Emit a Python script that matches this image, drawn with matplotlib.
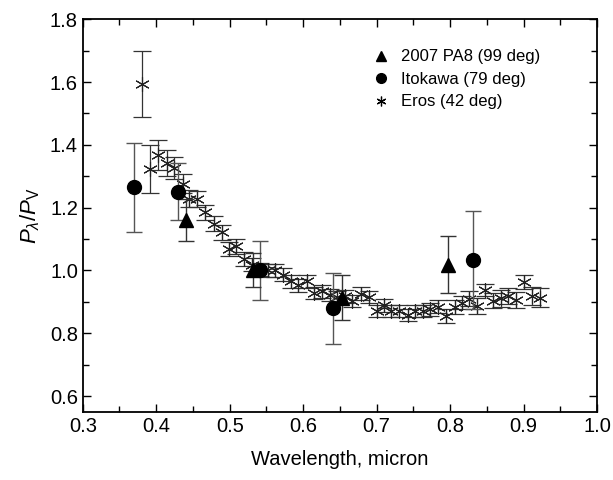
import matplotlib
matplotlib.use('Agg')
import matplotlib.pyplot as plt
from matplotlib.lines import Line2D
from matplotlib.ticker import MultipleLocator

plt.rcParams['font.family'] = ['Liberation Sans', 'DejaVu Sans']
plt.rcParams['mathtext.fontset'] = 'custom'
plt.rcParams['mathtext.rm'] = 'Liberation Sans'
plt.rcParams['mathtext.it'] = 'Liberation Sans:italic'

# 2007 PA8 (triangles)
pa8_x = [0.440, 0.532, 0.653, 0.797]
pa8_y = [1.162, 1.003, 0.914, 1.019]
pa8_err = [0.067, 0.054, 0.072, 0.090]

# Itokawa (circles)
ito_x = [0.370, 0.429, 0.541, 0.641, 0.831]
ito_y = [1.265, 1.251, 1.000, 0.879, 1.032]
ito_err = [0.141, 0.090, 0.095, 0.112, 0.156]

# Eros (asterisks)
eros_x = [0.381, 0.392, 0.403, 0.414, 0.424, 0.436, 0.445, 0.456, 0.467, 0.478,
          0.489, 0.499, 0.509, 0.520, 0.530, 0.541, 0.552, 0.562, 0.572, 0.583,
          0.593, 0.605, 0.615, 0.625, 0.636, 0.646, 0.657, 0.667, 0.679, 0.689,
          0.700, 0.710, 0.720, 0.731, 0.742, 0.752, 0.763, 0.773, 0.784, 0.795,
          0.806, 0.816, 0.826, 0.837, 0.848, 0.858, 0.869, 0.879, 0.890, 0.901,
          0.911, 0.922]
eros_y = [1.595, 1.323, 1.368, 1.342, 1.326, 1.276, 1.228, 1.228, 1.185, 1.149,
          1.122, 1.069, 1.077, 1.037, 1.019, 1.003, 1.000, 1.000, 0.987, 0.966,
          0.953, 0.966, 0.929, 0.934, 0.922, 0.915, 0.918, 0.903, 0.926, 0.916,
          0.871, 0.889, 0.871, 0.871, 0.858, 0.871, 0.871, 0.876, 0.885, 0.855,
          0.885, 0.898, 0.910, 0.887, 0.938, 0.903, 0.911, 0.918, 0.905, 0.963,
          0.918, 0.913]
eros_err = [0.105, 0.077, 0.048, 0.040, 0.035, 0.030, 0.027, 0.026, 0.025, 0.024,
            0.024, 0.023, 0.023, 0.022, 0.022, 0.022, 0.021, 0.021, 0.021, 0.021,
            0.021, 0.021, 0.020, 0.020, 0.020, 0.020, 0.020, 0.020, 0.020, 0.020,
            0.020, 0.020, 0.020, 0.020, 0.020, 0.020, 0.020, 0.020, 0.020, 0.022,
            0.022, 0.022, 0.024, 0.024, 0.020, 0.024, 0.026, 0.026, 0.026, 0.022,
            0.028, 0.030]

asterisk = (6, 2, 0)

fig = plt.figure(figsize=(6.13, 4.8), dpi=100)
ax = fig.add_axes([0.135, 0.142, 0.839, 0.818])

# Eros
ax.errorbar(eros_x, eros_y, yerr=eros_err, fmt='none', ecolor='#333333',
            elinewidth=0.9, capsize=6.5, capthick=0.9, zorder=2)
ax.plot(eros_x, eros_y, linestyle='none', marker=asterisk, markersize=10.5,
        markeredgecolor='#222222', markeredgewidth=0.8, zorder=3)

# Itokawa
ax.errorbar(ito_x, ito_y, yerr=ito_err, fmt='none', ecolor='#555555',
            elinewidth=1.0, capsize=5.5, capthick=1.0, zorder=4)
ax.plot(ito_x, ito_y, linestyle='none', marker='o', markersize=10,
        color='black', zorder=5)

# 2007 PA8
ax.errorbar(pa8_x, pa8_y, yerr=pa8_err, fmt='none', ecolor='#333333',
            elinewidth=1.0, capsize=5.5, capthick=1.0, zorder=4)
ax.plot(pa8_x, pa8_y, linestyle='none', marker='^', markersize=10,
        color='black', zorder=5)

ax.set_xlim(0.3, 1.0)
ax.set_ylim(0.55, 1.8)
ax.xaxis.set_major_locator(MultipleLocator(0.1))
ax.xaxis.set_minor_locator(MultipleLocator(0.05))
ax.yaxis.set_major_locator(MultipleLocator(0.2))
ax.yaxis.set_minor_locator(MultipleLocator(0.1))
ax.set_yticks([0.6, 0.8, 1.0, 1.2, 1.4, 1.6, 1.8])
ax.tick_params(which='both', direction='in', top=True, right=True,
               labelsize=14.5, width=1.0)
ax.tick_params(which='major', length=6)
ax.tick_params(which='minor', length=4)
for s in ax.spines.values():
    s.set_linewidth(1.3)

ax.set_xlabel('Wavelength, micron', fontsize=14.5, labelpad=10)
ax.set_ylabel(r'$P_{\lambda}/P_{\mathrm{V}}$', fontsize=16, labelpad=6)

handles = [
    Line2D([], [], linestyle='none', marker='^', markersize=7, color='black'),
    Line2D([], [], linestyle='none', marker='o', markersize=7, color='black'),
    Line2D([], [], linestyle='none', marker=asterisk, markersize=7,
           markeredgecolor='black', markeredgewidth=0.9),
]
labels = ['2007 PA8 (99 deg)', 'Itokawa (79 deg)', 'Eros (42 deg)']
ax.legend(handles, labels, loc='upper left', bbox_to_anchor=(0.55, 0.94),
          frameon=False, fontsize=12, handlelength=1.0, handletextpad=0.7,
          labelspacing=0.45, borderaxespad=0)

fig.savefig('out.png', dpi=100)
